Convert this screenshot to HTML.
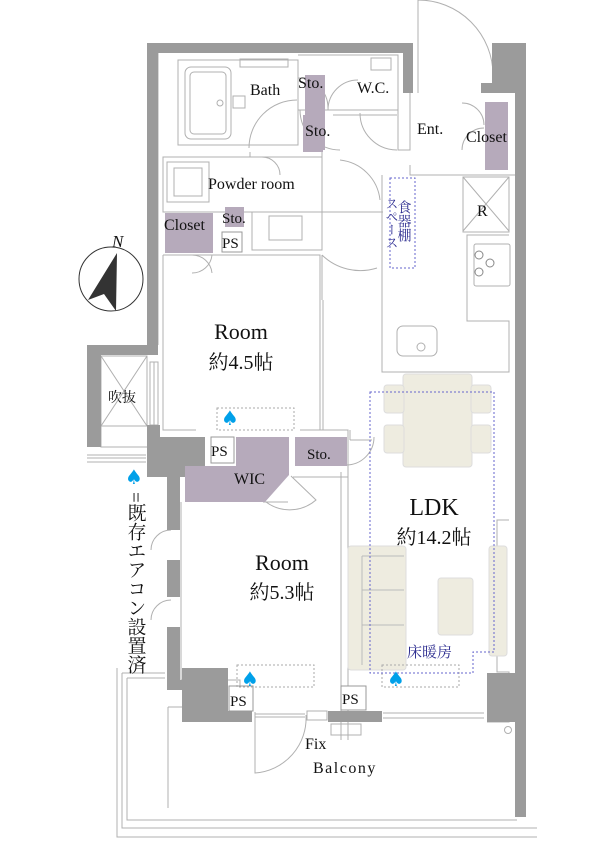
<!DOCTYPE html>
<html><head><meta charset="utf-8"><style>
html,body{margin:0;padding:0;background:#fff;}
svg{display:block;}
.s{font-family:"Liberation Serif","Noto Serif CJK SC",serif;fill:#111;}
.j{font-family:"Liberation Serif","Noto Serif CJK SC",serif;}
</style></head><body>
<svg width="612" height="859" viewBox="0 0 612 859" xmlns="http://www.w3.org/2000/svg">
<g fill="none" stroke="#b0b0b0" stroke-width="1">
<path d="M117 668 V837 H537"/>
<path d="M122 673 V828 H537"/>
<path d="M127 678 V820 H517"/>
<path d="M122 673 H165 M127 678 H165"/>
<path d="M168 707 H182 M168 707 V808"/>
<path d="M158 53 V345"/>
<path d="M178 60 H298 V145 H178 Z"/>
<path d="M298 55 H398 V85 M298 110 H398"/>
<path d="M333 115 H397"/>
<path d="M398 55 V150 H410 V93"/>
<path d="M410 165 V175 H515"/>
<path d="M163 157 H322 V212 H163 Z"/>
<path d="M250 157 V152 M322 152 V215"/>
<path d="M163 212 H322 M322 208 V250 H252 V212"/>
<path d="M163 255 H320 V430 H300"/>
<path d="M163 255 V430 H196"/>
<path d="M382 175 V321 M382 321 V372 H509 V321 H467 V235 H509 M463 232 H509"/>
<path d="M322 212 H383"/>
<path d="M322 255 V300 M323 300 V430"/>
<path d="M320 430 H348 V740"/>
<path d="M350 430 V440 M372 440 H350"/>
<path d="M181 502 V680 H240 V711"/>
<path d="M263 502 H288 M293 477 H348"/>
<path d="M341 472 V740"/>
<path d="M487 722 H509 V672 H497 V520 H509"/>
<path d="M249 148 A48 48 0 0 1 297 100"/>
<path d="M340 150 A40 40 0 0 1 300 110"/>
<path d="M340 160 A45 45 0 0 1 380 200"/>
<path d="M298 78 A30 30 0 0 1 328 108"/>
<path d="M328 110 A30 30 0 0 1 358 80"/>
<path d="M360 113 A37 37 0 0 0 397 150"/>
<path d="M418 93 V0 M418 0 A75 75 0 0 1 493 75"/>
<path d="M462 103 A22 22 0 0 1 484 125 M462 150 A22 22 0 0 1 484 128"/>
<path d="M322 255 A55 55 0 0 0 377 268"/>
<path d="M212 273 A20 20 0 0 0 192 255 M192 273 A20 20 0 0 0 212 255"/>
<path d="M262 157 A18 18 0 0 1 280 175"/>
<path d="M346 465 A28 28 0 0 0 374 437"/>
<path d="M266 502 A40 40 0 0 0 316 500 L291 476"/>
<path d="M171 530 A20 20 0 0 0 151 550 M171 600 A20 20 0 0 0 151 620"/>
<path d="M255 712 V773 A55 55 0 0 0 306 715"/>
<path d="M150 362 H158 V425 H150 Z M154 362 V425"/>
<path d="M255 714 H305 M255 717 H305"/>
<path d="M307 711 H327 V720 H307 Z"/>
<path d="M383 713 H484 M383 718 H484"/>
<rect x="331" y="724" width="30" height="11"/>
<rect x="517" y="752" width="7" height="48"/>
<circle cx="508" cy="730" r="3.5"/>
<path d="M146 455 H87"/>
<path d="M87 458 H146 M87 462 H146"/>
<rect x="185" y="67" width="46" height="72" rx="6"/>
<rect x="190" y="72" width="36" height="62" rx="4"/>
<circle cx="220" cy="103" r="3"/>
<rect x="233" y="96" width="12" height="12"/>
<rect x="240" y="59" width="48" height="8"/>
<rect x="371" y="58" width="20" height="12"/>
<rect x="167" y="162" width="42" height="40"/>
<rect x="174" y="168" width="28" height="28"/>
<rect x="269" y="216" width="33" height="24"/>
<rect x="474" y="244" width="36" height="42" rx="2"/>
<rect x="397" y="326" width="40" height="30" rx="6"/>
<circle cx="421" cy="347" r="4"/>
<path d="M463 177 L509 231 M509 177 L463 231"/>
<rect x="463" y="177" width="46" height="55"/>
<rect x="101" y="356" width="46" height="70"/>
<path d="M101 356 L147 426 M147 356 L101 426 M101 426 V447 H147"/>
</g>
<g fill="none" stroke="#888"><circle cx="479" cy="255" r="4"/><circle cx="490" cy="263" r="4"/><circle cx="479" cy="272" r="4"/></g>
<g fill="#9b9b9b">
<rect x="147" y="43" width="266" height="10"/>
<rect x="147" y="43" width="11" height="302"/>
<rect x="403" y="43" width="10" height="50"/>
<rect x="492" y="43" width="34" height="40"/>
<rect x="481" y="83" width="45" height="10"/>
<rect x="515" y="83" width="11" height="734"/>
<path d="M87 345 H158 V355 H101 V447 H87 Z"/>
<path d="M147 425 H160 V437 H205 V477 H180 V530 H167 V477 H147 Z"/>
<rect x="167" y="560" width="13" height="37"/>
<rect x="167" y="627" width="13" height="53"/>
<path d="M167 680 H182 V668 H228 V711 H252 V722 H182 V690 H167 Z"/>
<rect x="328" y="711" width="54" height="11"/>
<rect x="487" y="673" width="28" height="49"/>
</g>
<g fill="#b6aabb">
<rect x="305" y="75" width="20" height="75"/>
<rect x="303" y="115" width="20" height="37"/>
<rect x="485" y="102" width="23" height="68"/>
<rect x="165" y="213" width="48" height="40"/>
<rect x="225" y="207" width="19" height="20"/>
<path d="M236 437 H289 V475 L265 502 H185 V466 H236 Z"/>
<rect x="295" y="437" width="52" height="29"/>
</g>
<g fill="#fff" stroke="#999"><rect x="222" y="232" width="20" height="20"/><rect x="211" y="437" width="23" height="26"/><rect x="229" y="686" width="24" height="25"/><rect x="341" y="686" width="25" height="24"/></g>
<g fill="#eeece0" stroke="#ddd">
<rect x="403" y="374" width="69" height="93" rx="3"/>
<rect x="384" y="385" width="20" height="28" rx="3"/><rect x="384" y="425" width="20" height="28" rx="3"/>
<rect x="471" y="385" width="20" height="28" rx="3"/><rect x="471" y="425" width="20" height="28" rx="3"/>
<rect x="348" y="546" width="58" height="124" rx="3"/>
<rect x="438" y="578" width="35" height="57" rx="3"/>
<rect x="489" y="546" width="18" height="110" rx="3"/>
</g>
<g fill="none" stroke="#bbb"><path d="M362 556 H404 M362 556 V665 M362 590 H404 M362 625 H404"/></g>
<g fill="none" stroke-dasharray="2,2">
<rect x="217" y="408" width="77" height="22" stroke="#aaa"/>
<rect x="237" y="665" width="77" height="22" stroke="#aaa"/>
<rect x="382" y="665" width="77" height="22" stroke="#aaa"/>
<rect x="390" y="178" width="25" height="90" stroke="#6666cc"/>
<path d="M370 392 H494 V652 H473 V673 H370 Z" stroke="#6666cc"/>
</g>
<circle cx="111" cy="279" r="32" fill="none" stroke="#333" stroke-width="1"/>
<path d="M117 253 L88 300 L104 294 L116 311 Z" fill="#333"/>
<text x="112" y="247" class="s" font-size="17" font-style="italic">N</text>
<g class="s" font-size="16">
<text x="250" y="95">Bath</text>
<text x="298" y="88">Sto.</text>
<text x="357" y="93">W.C.</text>
<text x="305" y="136">Sto.</text>
<text x="417" y="134">Ent.</text>
<text x="466" y="142">Closet</text>
<text x="208" y="189">Powder room</text>
<text x="164" y="230">Closet</text>
<text x="222" y="223" font-size="15">Sto.</text>
<text x="222" y="248" font-size="15">PS</text>
<text x="477" y="216">R</text>
<text x="211" y="456" font-size="15">PS</text>
<text x="234" y="484">WIC</text>
<text x="307" y="459" font-size="15">Sto.</text>
<text x="230" y="706" font-size="15">PS</text>
<text x="342" y="704" font-size="15">PS</text>
<text x="305" y="749">Fix</text>
<text x="313" y="773" letter-spacing="1.5">Balcony</text>
<text x="108" y="402" font-size="14">吹抜</text>
</g>
<g class="s" font-size="22" text-anchor="middle">
<text x="241" y="339">Room</text>
<text x="241" y="369" font-size="20">約4.5帖</text>
<text x="282" y="570">Room</text>
<text x="282" y="599" font-size="20">約5.3帖</text>
<text x="434" y="515" font-size="24">LDK</text>
<text x="434" y="544" font-size="20">約14.2帖</text>
</g>
<g class="j" fill="#2b2b8f" font-size="15">
<text x="407" y="657">床暖房</text>
<text x="403" y="200" writing-mode="tb" font-size="14">食器棚</text>
<text x="391" y="197" writing-mode="tb" font-size="13">スペース</text>
</g>
<g class="j" font-size="19" fill="#111"><text x="135" y="492" writing-mode="tb">=既存エアコン設置済</text></g>
<g fill="#00a0e9" font-size="20" font-family="DejaVu Sans,sans-serif" text-anchor="middle">
<text x="230" y="425">♠</text><text x="250" y="686">♠</text><text x="396" y="686">♠</text><text x="134" y="484">♠</text>
</g>
</svg>
</body></html>
